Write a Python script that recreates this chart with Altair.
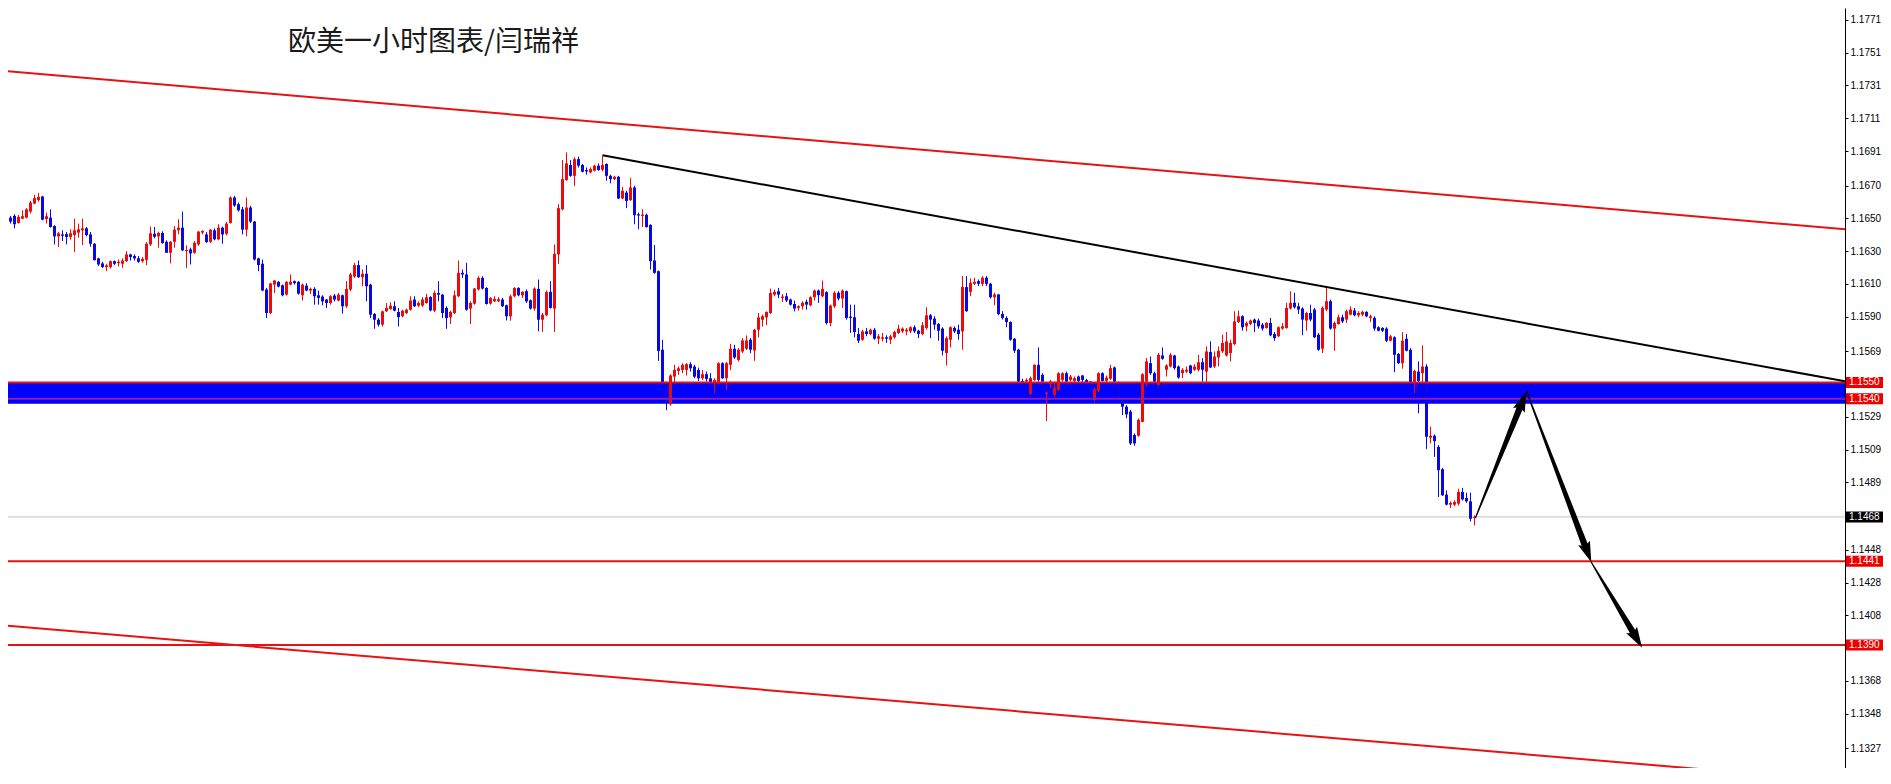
import math
import altair as alt
import pandas as pd

TITLE = "欧美一小时图表/闫瑞祥"

OPEN = [
1.16504,1.16541,1.16504,1.16515,1.16472,1.16498,1.16504,1.16541,1.16590,1.16611,
1.16633,1.16496,1.16504,1.16453,1.16390,1.16402,1.16404,1.16386,1.16398,1.16413,
1.16427,1.16439,1.16402,1.16345,1.16256,1.16225,1.16203,1.16203,1.16239,1.16227,
1.16223,1.16239,1.16280,1.16270,1.16256,1.16239,1.16247,1.16341,1.16406,1.16390,
1.16411,1.16357,1.16290,1.16357,1.16427,1.16443,1.16300,1.16311,1.16290,1.16341,
1.16413,1.16402,1.16357,1.16427,1.16372,1.16443,1.16406,1.16472,1.16627,1.16586,
1.16555,1.16431,1.16566,1.16480,1.16256,1.16223,1.16066,1.15923,1.16096,1.16113,
1.16092,1.16035,1.16096,1.16117,1.16113,1.16031,1.16090,1.16060,1.16070,1.16031,
1.16023,1.16005,1.15984,1.16029,1.15999,1.16031,1.15964,1.16066,1.16145,1.16215,
1.16141,1.16162,1.16096,1.15917,1.15882,1.15852,1.15933,1.15947,1.15964,1.15929,
1.15903,1.15923,1.15943,1.16005,1.15968,1.15968,1.15984,1.16021,1.15937,1.16045,
1.16035,1.15954,1.15896,1.15923,1.16025,1.16168,1.16158,1.15950,1.15980,1.16066,
1.16137,1.16076,1.15980,1.15994,1.15994,1.16005,1.15970,1.15903,1.16025,1.16076,
1.16031,1.16056,1.16001,1.15950,1.16070,1.15882,1.15909,1.16052,1.15950,1.16280,
1.16555,1.16733,1.16825,1.16759,1.16861,1.16825,1.16794,1.16780,1.16790,1.16821,
1.16796,1.16831,1.16759,1.16739,1.16753,1.16621,1.16657,1.16611,1.16688,1.16525,
1.16515,1.16521,1.16460,1.16243,1.16178,1.15699,1.15495,1.15366,1.15535,1.15570,
1.15576,1.15576,1.15611,1.15597,1.15576,1.15525,1.15550,1.15525,1.15495,1.15495,
1.15617,1.15525,1.15607,1.15705,1.15637,1.15688,1.15705,1.15760,1.15695,1.15821,
1.15882,1.15896,1.15923,1.16035,1.16056,1.16015,1.16025,1.16005,1.15978,1.15954,
1.15964,1.15991,1.15970,1.16019,1.16060,1.16025,1.16050,1.15862,1.15964,1.16046,
1.16011,1.16056,1.15901,1.15897,1.15795,1.15760,1.15811,1.15795,1.15821,1.15766,
1.15766,1.15775,1.15760,1.15775,1.15801,1.15811,1.15811,1.15811,1.15836,1.15815,
1.15795,1.15832,1.15909,1.15889,1.15856,1.15828,1.15679,1.15760,1.15832,1.15821,
1.15811,1.16081,1.16052,1.16101,1.16117,1.16101,1.16138,1.16101,1.16019,1.16036,
1.15917,1.15893,1.15868,1.15766,1.15699,1.15509,1.15505,1.15428,1.15515,1.15607,
1.15546,1.15428,1.15489,1.15424,1.15454,1.15515,1.15556,1.15515,1.15509,1.15536,
1.15542,1.15515,1.15505,1.15393,1.15448,1.15556,1.15509,1.15522,1.15591,1.15495,
1.15383,1.15352,1.15322,1.15179,1.15175,1.15260,1.15505,1.15617,1.15556,1.15485,
1.15664,1.15577,1.15597,1.15664,1.15597,1.15556,1.15566,1.15603,1.15577,1.15577,
1.15623,1.15566,1.15685,1.15597,1.15652,1.15689,1.15664,1.15679,1.15734,1.15868,
1.15903,1.15842,1.15856,1.15883,1.15877,1.15852,1.15832,1.15862,1.15795,1.15781,
1.15828,1.15832,1.15950,1.15985,1.15964,1.15950,1.15877,1.15923,1.15944,1.15791,
1.15705,1.15944,1.15995,1.15828,1.15856,1.15897,1.15883,1.15913,1.15938,1.15909,
1.15913,1.15930,1.15893,1.15893,1.15836,1.15832,1.15828,1.15754,1.15775,1.15673,
1.15617,1.15766,1.15699,1.15501,1.15566,1.15556,1.15597,1.15163,1.15175,1.15107,
1.14971,1.14816,1.14755,1.14755,1.14761,1.14832,1.14795,1.14775,1.14673]

HIGH = [
1.16560,1.16555,1.16515,1.16525,1.16521,1.16549,1.16562,1.16606,1.16643,1.16655,
1.16637,1.16535,1.16555,1.16458,1.16417,1.16427,1.16417,1.16433,1.16498,1.16468,
1.16498,1.16447,1.16417,1.16349,1.16260,1.16235,1.16223,1.16243,1.16243,1.16249,
1.16256,1.16300,1.16284,1.16280,1.16270,1.16264,1.16355,1.16449,1.16447,1.16419,
1.16421,1.16366,1.16362,1.16453,1.16494,1.16541,1.16335,1.16321,1.16362,1.16423,
1.16427,1.16417,1.16435,1.16439,1.16464,1.16449,1.16478,1.16633,1.16637,1.16596,
1.16570,1.16627,1.16576,1.16484,1.16260,1.16249,1.16076,1.16107,1.16125,1.16117,
1.16096,1.16117,1.16158,1.16121,1.16117,1.16103,1.16105,1.16078,1.16080,1.16060,
1.16031,1.16008,1.16031,1.16039,1.16045,1.16035,1.16117,1.16168,1.16229,1.16243,
1.16188,1.16215,1.16101,1.15923,1.15892,1.15937,1.15984,1.15988,1.15994,1.15954,
1.15943,1.15950,1.16025,1.16025,1.15994,1.16019,1.16039,1.16025,1.16060,1.16117,
1.16039,1.15964,1.15937,1.16060,1.16243,1.16188,1.16229,1.15994,1.16076,1.16147,
1.16147,1.16080,1.16019,1.16025,1.16019,1.16015,1.15974,1.16035,1.16080,1.16080,
1.16056,1.16066,1.16005,1.16080,1.16127,1.15923,1.16060,1.16117,1.16341,1.16586,
1.16855,1.16902,1.16855,1.16872,1.16876,1.16831,1.16810,1.16810,1.16827,1.16835,
1.16882,1.16835,1.16766,1.16759,1.16759,1.16692,1.16668,1.16745,1.16698,1.16535,
1.16555,1.16529,1.16464,1.16337,1.16182,1.15760,1.15505,1.15550,1.15607,1.15597,
1.15617,1.15617,1.15623,1.15607,1.15590,1.15576,1.15566,1.15556,1.15525,1.15623,
1.15623,1.15623,1.15735,1.15729,1.15709,1.15770,1.15786,1.15770,1.15827,1.15923,
1.15913,1.15933,1.16072,1.16066,1.16076,1.16039,1.16045,1.16011,1.15999,1.15970,
1.15995,1.16005,1.16025,1.16066,1.16066,1.16121,1.16056,1.15974,1.16056,1.16056,
1.16066,1.16060,1.15974,1.15974,1.15832,1.15821,1.15832,1.15828,1.15832,1.15795,
1.15801,1.15787,1.15791,1.15815,1.15852,1.15836,1.15832,1.15842,1.15848,1.15821,
1.15868,1.15958,1.15917,1.15903,1.15862,1.15836,1.15781,1.15842,1.15842,1.15852,
1.16148,1.16148,1.16134,1.16138,1.16127,1.16148,1.16148,1.16107,1.16046,1.16040,
1.15934,1.15903,1.15872,1.15770,1.15705,1.15522,1.15526,1.15536,1.15611,1.15713,
1.15556,1.15444,1.15515,1.15505,1.15562,1.15562,1.15566,1.15546,1.15536,1.15542,
1.15546,1.15522,1.15509,1.15469,1.15562,1.15562,1.15542,1.15607,1.15597,1.15505,
1.15393,1.15362,1.15332,1.15189,1.15281,1.15556,1.15648,1.15658,1.15566,1.15679,
1.15713,1.15611,1.15679,1.15668,1.15603,1.15587,1.15597,1.15607,1.15611,1.15668,
1.15648,1.15719,1.15750,1.15689,1.15719,1.15791,1.15807,1.15760,1.15934,1.15938,
1.15909,1.15872,1.15883,1.15889,1.15889,1.15862,1.15868,1.15893,1.15807,1.15842,
1.15862,1.15985,1.16056,1.16046,1.15985,1.15958,1.15930,1.15974,1.15954,1.15801,
1.15964,1.16081,1.16005,1.15872,1.15913,1.15913,1.15944,1.15964,1.15954,1.15934,
1.15938,1.15934,1.15913,1.15903,1.15842,1.15836,1.15836,1.15791,1.15781,1.15679,
1.15807,1.15795,1.15709,1.15577,1.15628,1.15726,1.15611,1.15230,1.15183,1.15118,
1.14979,1.14842,1.14775,1.14781,1.14852,1.14857,1.14828,1.14828,1.14689]

LOW = [
1.16494,1.16474,1.16468,1.16439,1.16468,1.16494,1.16500,1.16529,1.16586,1.16602,
1.16488,1.16468,1.16443,1.16341,1.16325,1.16362,1.16341,1.16370,1.16294,1.16382,
1.16337,1.16390,1.16327,1.16243,1.16209,1.16198,1.16178,1.16194,1.16215,1.16207,
1.16198,1.16235,1.16243,1.16243,1.16229,1.16229,1.16215,1.16331,1.16378,1.16321,
1.16345,1.16290,1.16225,1.16321,1.16402,1.16300,1.16198,1.16219,1.16284,1.16333,
1.16402,1.16351,1.16349,1.16366,1.16366,1.16345,1.16396,1.16468,1.16570,1.16541,
1.16402,1.16390,1.16472,1.16243,1.16178,1.16056,1.15892,1.15917,1.16045,1.16080,
1.16025,1.16029,1.16092,1.16096,1.16035,1.15999,1.16056,1.16039,1.15974,1.15974,
1.15970,1.15954,1.15974,1.15994,1.15994,1.15919,1.15954,1.16056,1.16137,1.16137,
1.16086,1.15994,1.15892,1.15827,1.15841,1.15841,1.15929,1.15943,1.15933,1.15841,
1.15896,1.15917,1.15937,1.15960,1.15958,1.15960,1.15980,1.15933,1.15929,1.15994,
1.15892,1.15827,1.15856,1.15917,1.16019,1.16137,1.15937,1.15856,1.15974,1.16060,
1.16066,1.15974,1.15974,1.15990,1.15990,1.15960,1.15878,1.15876,1.16019,1.16025,
1.16015,1.15984,1.15943,1.15937,1.15811,1.15807,1.15903,1.15950,1.15807,1.16223,
1.16549,1.16729,1.16753,1.16698,1.16810,1.16780,1.16766,1.16774,1.16786,1.16790,
1.16786,1.16729,1.16713,1.16733,1.16617,1.16617,1.16562,1.16606,1.16464,1.16433,
1.16447,1.16443,1.16188,1.16162,1.15631,1.15484,1.15331,1.15358,1.15495,1.15546,
1.15556,1.15542,1.15566,1.15525,1.15509,1.15515,1.15505,1.15444,1.15433,1.15489,
1.15521,1.15454,1.15576,1.15644,1.15627,1.15678,1.15697,1.15678,1.15631,1.15774,
1.15841,1.15848,1.15917,1.16025,1.16015,1.15990,1.15990,1.15968,1.15933,1.15937,
1.15944,1.15944,1.15964,1.15999,1.15985,1.16019,1.15852,1.15842,1.15954,1.15999,
1.15954,1.15883,1.15801,1.15775,1.15740,1.15754,1.15781,1.15787,1.15760,1.15734,
1.15750,1.15740,1.15734,1.15766,1.15795,1.15801,1.15787,1.15801,1.15801,1.15770,
1.15787,1.15821,1.15770,1.15821,1.15754,1.15664,1.15603,1.15713,1.15801,1.15760,
1.15699,1.15930,1.16025,1.16093,1.16087,1.16087,1.16087,1.16011,1.15970,1.15909,
1.15883,1.15836,1.15754,1.15679,1.15501,1.15495,1.15501,1.15424,1.15509,1.15505,
1.15501,1.15265,1.15464,1.15413,1.15448,1.15505,1.15501,1.15505,1.15501,1.15495,
1.15501,1.15489,1.15475,1.15383,1.15440,1.15505,1.15501,1.15515,1.15495,1.15383,
1.15301,1.15281,1.15118,1.15114,1.15169,1.15256,1.15475,1.15546,1.15501,1.15475,
1.15638,1.15536,1.15591,1.15577,1.15522,1.15526,1.15556,1.15550,1.15570,1.15566,
1.15505,1.15501,1.15587,1.15587,1.15597,1.15679,1.15658,1.15628,1.15726,1.15862,
1.15815,1.15811,1.15848,1.15807,1.15828,1.15815,1.15828,1.15781,1.15754,1.15775,
1.15821,1.15828,1.15944,1.15950,1.15917,1.15787,1.15815,1.15872,1.15770,1.15693,
1.15679,1.15934,1.15821,1.15693,1.15852,1.15862,1.15862,1.15909,1.15903,1.15897,
1.15903,1.15897,1.15868,1.15815,1.15811,1.15807,1.15746,1.15750,1.15562,1.15611,
1.15583,1.15689,1.15475,1.15434,1.15311,1.15495,1.15093,1.15128,1.15046,1.14801,
1.14808,1.14750,1.14734,1.14746,1.14750,1.14781,1.14767,1.14653,1.14628]

CLOSE = [
1.16541,1.16500,1.16480,1.16464,1.16509,1.16513,1.16555,1.16596,1.16623,1.16631,
1.16492,1.16513,1.16447,1.16390,1.16409,1.16394,1.16386,1.16409,1.16427,1.16433,
1.16439,1.16398,1.16345,1.16245,1.16219,1.16203,1.16213,1.16239,1.16223,1.16235,
1.16243,1.16280,1.16264,1.16256,1.16235,1.16253,1.16345,1.16409,1.16388,1.16411,
1.16349,1.16290,1.16357,1.16431,1.16443,1.16305,1.16307,1.16286,1.16351,1.16419,
1.16423,1.16355,1.16431,1.16372,1.16443,1.16402,1.16468,1.16627,1.16578,1.16549,
1.16431,1.16566,1.16480,1.16249,1.16215,1.16060,1.15923,1.16103,1.16121,1.16084,
1.16031,1.16113,1.16113,1.16105,1.16041,1.16096,1.16060,1.16070,1.16025,1.16015,
1.15994,1.15984,1.16025,1.16005,1.16035,1.15964,1.16070,1.16158,1.16215,1.16141,
1.16162,1.16086,1.15913,1.15882,1.15852,1.15933,1.15954,1.15968,1.15937,1.15898,
1.15937,1.15943,1.15999,1.15964,1.15984,1.16005,1.16019,1.15939,1.16045,1.16035,
1.15923,1.15892,1.15929,1.16031,1.16168,1.16158,1.15943,1.15984,1.16072,1.16137,
1.16072,1.15978,1.16015,1.16009,1.16007,1.15964,1.15903,1.16025,1.16076,1.16031,
1.16052,1.15994,1.15950,1.16072,1.15882,1.15913,1.16052,1.15954,1.16284,1.16562,
1.16739,1.16835,1.16759,1.16861,1.16821,1.16784,1.16786,1.16800,1.16821,1.16794,
1.16825,1.16759,1.16739,1.16753,1.16621,1.16668,1.16606,1.16688,1.16519,1.16517,
1.16523,1.16447,1.16239,1.16168,1.15692,1.15495,1.15382,1.15542,1.15576,1.15586,
1.15607,1.15611,1.15586,1.15535,1.15525,1.15550,1.15521,1.15495,1.15515,1.15617,
1.15525,1.15617,1.15705,1.15652,1.15699,1.15756,1.15756,1.15699,1.15821,1.15896,
1.15903,1.15929,1.16045,1.16052,1.16035,1.16023,1.15999,1.15974,1.15950,1.15964,
1.15985,1.15974,1.16019,1.16060,1.16032,1.16070,1.15862,1.15968,1.16046,1.16011,
1.16060,1.15893,1.15893,1.15807,1.15754,1.15811,1.15795,1.15821,1.15766,1.15781,
1.15775,1.15766,1.15781,1.15807,1.15828,1.15828,1.15821,1.15836,1.15811,1.15795,
1.15848,1.15909,1.15883,1.15852,1.15815,1.15693,1.15770,1.15836,1.15811,1.15795,
1.16081,1.15934,1.16107,1.16113,1.16101,1.16138,1.16101,1.16019,1.16036,1.15917,
1.15893,1.15868,1.15760,1.15693,1.15505,1.15501,1.15515,1.15526,1.15607,1.15515,
1.15505,1.15438,1.15505,1.15469,1.15556,1.15556,1.15505,1.15536,1.15526,1.15509,
1.15515,1.15495,1.15489,1.15460,1.15556,1.15509,1.15530,1.15587,1.15505,1.15393,
1.15352,1.15305,1.15128,1.15128,1.15271,1.15550,1.15628,1.15556,1.15505,1.15668,
1.15644,1.15603,1.15668,1.15587,1.15530,1.15577,1.15577,1.15556,1.15597,1.15623,
1.15577,1.15689,1.15591,1.15658,1.15693,1.15740,1.15750,1.15740,1.15872,1.15903,
1.15836,1.15862,1.15877,1.15862,1.15842,1.15828,1.15862,1.15787,1.15770,1.15836,
1.15842,1.15954,1.15985,1.15958,1.15944,1.15883,1.15923,1.15883,1.15775,1.15699,
1.15954,1.15995,1.15828,1.15862,1.15897,1.15872,1.15934,1.15944,1.15909,1.15923,
1.15930,1.15903,1.15903,1.15828,1.15815,1.15815,1.15754,1.15781,1.15668,1.15617,
1.15754,1.15693,1.15485,1.15570,1.15509,1.15597,1.15169,1.15175,1.15142,1.14965,
1.14812,1.14755,1.14765,1.14771,1.14832,1.14787,1.14775,1.14669,1.14679]

# price axis tick labels (as printed on the right-hand scale)
TICKS = [1.1771, 1.1751, 1.1731, 1.1711, 1.1691, 1.1670, 1.1650, 1.1630, 1.1610,
         1.1590, 1.1569, 1.1529, 1.1509, 1.1489, 1.1448, 1.1428, 1.1408,
         1.1368, 1.1348, 1.1327, 1.1307]

# support zone and horizontal levels
BAND_TOP = 1.1550
BAND_BOTTOM = 1.1537
LEVEL_PRICES = [1.1550, 1.1540, 1.1441, 1.1390]
LEVEL_COLORS = ["#e81212", "#8a1fb0", "#e81212", "#e81212"]
LAST_PRICE = 1.1468

# price tags on the right scale
TAG_TEXT = ["1.1550", "1.1540", "1.1468", "1.1441", "1.1390"]
TAG_PRICES = [1.1550, 1.1540, 1.1468, 1.1441, 1.1390]
TAG_COLORS = ["#ee0000", "#ee0000", "#000000", "#ee0000", "#ee0000"]

# channel lines and trend line (bar index, price)
CHANNEL_X = [-0.5, 463.25]
UPPER_Y = [1.17401, 1.16428]
LOWER_Y = [1.14020, 1.13063]
TREND_X = [150, 463.25]
TREND_Y = [1.16884, 1.15495]

# projected path arrows (bar index, price)
ARROW_X = [368.25, 381.0, 397.2, 409.9]
ARROW_Y = [1.14675, 1.15446, 1.14404, 1.13883]

RED = "#ee0a0a"
BLUE = "#0808e6"
BAND_BLUE = "#0000ff"

W, H = 1837, 760
XDOM = [1.375, 1.375 + W / 4.0]
YDOM = [1.131497, 1.177820]
KX = W / (XDOM[1] - XDOM[0])
KY = H / (YDOM[1] - YDOM[0])

XS = alt.Scale(domain=XDOM, nice=False, zero=False)
YS = alt.Scale(domain=YDOM, nice=False, zero=False)

AXIS = alt.Axis(orient="right", values=TICKS, labelExpr="format(datum.value, '.4f')",
                grid=False, domainColor="#000000", domainWidth=1, tickColor="#000000",
                tickSize=3, labelFont="Liberation Sans", labelFontSize=10,
                labelColor="#000000", labelPadding=2, labelFlush=False,
                labelOverlap=False, zindex=1, title=None)


def xenc(f="i"):
    return alt.X(f"{f}:Q", scale=XS, axis=None, title=None)


def yenc(f="p"):
    return alt.Y(f"{f}:Q", scale=YS, axis=AXIS, title=None)


n = min(len(OPEN), len(HIGH), len(LOW), len(CLOSE))
cdf = pd.DataFrame({"i": list(range(n)), "o": OPEN[:n], "h": HIGH[:n],
                    "l": LOW[:n], "c": CLOSE[:n]})
cdf["d"] = ["up" if c >= o else "down" for o, c in zip(cdf["o"], cdf["c"])]
ccolor = alt.Color("d:N", scale=alt.Scale(domain=["up", "down"], range=[RED, BLUE]), legend=None)

band = alt.Chart(pd.DataFrame({"p": [BAND_TOP], "p2": [BAND_BOTTOM]})).mark_rect(
    color=BAND_BLUE, opacity=1).encode(
    x=alt.value(0), x2=alt.value(W), y=yenc("p"), y2="p2:Q")

lastline = alt.Chart(pd.DataFrame({"p": [LAST_PRICE]})).mark_rule(
    color="#c0c0c0", strokeWidth=1).encode(y=yenc("p"))

wicks = alt.Chart(cdf).mark_rule(strokeWidth=1, clip=True).encode(
    x=xenc(), y=yenc("l"), y2="h:Q", color=ccolor)
bodies = alt.Chart(cdf).mark_rule(strokeWidth=3, clip=True).encode(
    x=xenc(), y=yenc("o"), y2="c:Q", color=ccolor)

levels = alt.Chart(pd.DataFrame({"p": LEVEL_PRICES, "col": LEVEL_COLORS})).mark_rule(
    strokeWidth=2).encode(y=yenc("p"), color=alt.Color("col:N", scale=None))

chan_df = pd.DataFrame({"i": CHANNEL_X + CHANNEL_X, "p": UPPER_Y + LOWER_Y,
                        "g": ["u", "u", "l", "l"]})
channels = alt.Chart(chan_df).mark_line(color="#e81212", strokeWidth=2, clip=True).encode(
    x=xenc(), y=yenc("p"), detail="g:N")

trend = alt.Chart(pd.DataFrame({"i": TREND_X, "p": TREND_Y})).mark_line(
    color="#000000", strokeWidth=2, clip=True).encode(x=xenc(), y=yenc("p"))

# arrows: tapered shaft (trail) + arrow head (custom symbol)
HEAD_SIZE = 520
HEAD_PATH = "M0,0L-0.55,1.8L0,1.5L0.55,1.8Z"
head_len = math.sqrt(HEAD_SIZE) / 2 * 1.8
shaft_rows, head_rows = [], []
for k in range(len(ARROW_X) - 1):
    x0, y0, x1, y1 = ARROW_X[k], ARROW_Y[k], ARROW_X[k + 1], ARROW_Y[k + 1]
    dx = (x1 - x0) * KX
    dy = -(y1 - y0) * KY
    L = math.hypot(dx, dy)
    ux, uy = dx / L, dy / L
    ang = math.degrees(math.atan2(dx, -dy)) % 360
    back = head_len * 0.75
    ex = x1 - ux * back / KX
    ey = y1 + uy * back / KY
    shaft_rows.append({"k": k, "s": 0, "i": x0, "p": y0, "w": 1.2})
    shaft_rows.append({"k": k, "s": 1, "i": ex, "p": ey, "w": 6.5})
    head_rows.append({"i": x1, "p": y1, "a": ang})

shafts = alt.Chart(pd.DataFrame(shaft_rows)).mark_trail(color="#000000").encode(
    x=xenc(), y=yenc("p"), size=alt.Size("w:Q", scale=None, legend=None),
    detail="k:N", order="s:Q")
heads = alt.Chart(pd.DataFrame(head_rows)).mark_point(
    shape=HEAD_PATH, filled=True, color="#000000", opacity=1, size=HEAD_SIZE,
    strokeWidth=0).encode(x=xenc(), y=yenc("p"), angle=alt.Angle("a:Q", scale=None))

title = alt.Chart(pd.DataFrame({"t": [TITLE]})).mark_text(
    align="left", baseline="middle", font="Noto Sans CJK SC", fontSize=28,
    color="#1a1a1a").encode(x=alt.value(280), y=alt.value(35), text="t:N")

half = 5.5 / KY
tag_df = pd.DataFrame({"p": [v + half for v in TAG_PRICES],
                       "p2": [v - half for v in TAG_PRICES],
                       "pc": TAG_PRICES, "col": TAG_COLORS, "t": TAG_TEXT})
tag_box = alt.Chart(tag_df).mark_rect().encode(
    x=alt.value(W + 1), x2=alt.value(W + 40), y=yenc("p"), y2="p2:Q",
    color=alt.Color("col:N", scale=None))
tag_text = alt.Chart(tag_df).mark_text(
    align="left", baseline="middle", font="Liberation Sans", fontSize=10,
    color="#ffffff").encode(x=alt.value(W + 4), y=yenc("pc"), text="t:N")

chart = alt.layer(
    band, lastline, wicks, bodies, levels, channels, trend, shafts, heads,
    title, tag_box, tag_text
).properties(
    width=W, height=H,
    autosize=alt.AutoSizeParams(type="none"),
    padding={"left": 0, "top": 0, "right": 38, "bottom": 0},
    background="#ffffff",
).configure_view(strokeWidth=0)

chart.save("out.html", embed_options={"renderer": "svg", "actions": False})
